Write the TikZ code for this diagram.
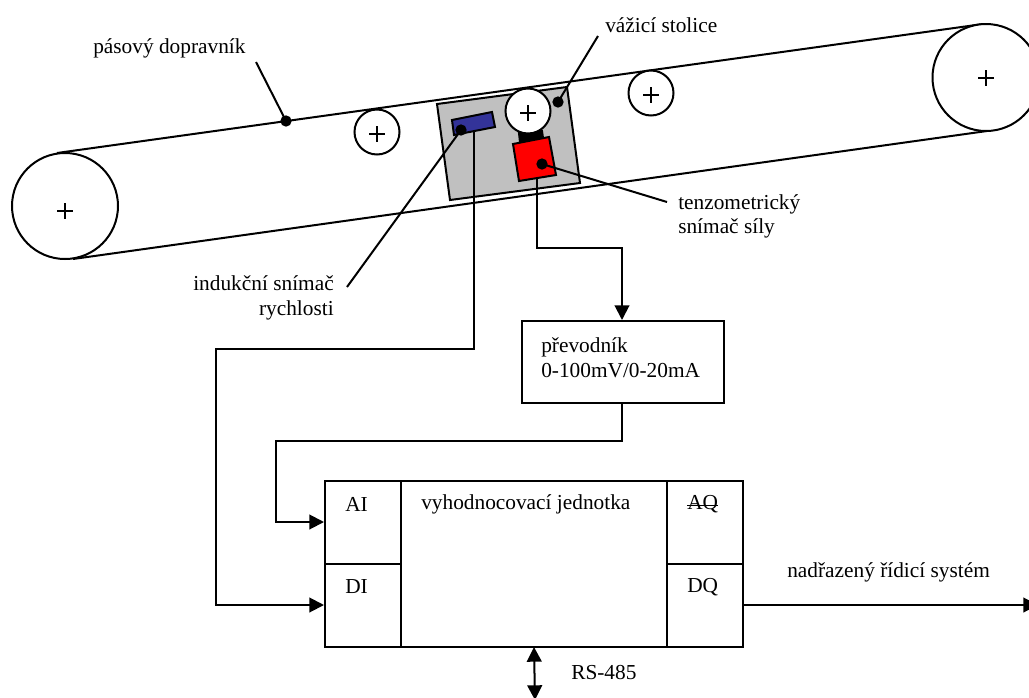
\documentclass[tikz,border=0pt]{standalone}
\usepackage{fontspec}
\setmainfont{Liberation Serif}
\usetikzlibrary{arrows.meta,calc}
\definecolor{plategray}{RGB}{192,192,192}
\definecolor{sensorblue}{RGB}{51,51,153}
\tikzset{
  x=0.75pt,y=-0.75pt,
  line/.style={draw=black,line width=1.5pt},
  roller/.style={circle,line,fill=white,inner sep=0pt,minimum size=#1*0.75pt},
  dot/.style={circle,fill=black,inner sep=0pt,minimum size=8.5pt},
  plus/.style={line width=1.2pt},
  lab/.style={inner sep=0pt,font=\fontsize{16}{18.75}\selectfont,align=left},
  boxn/.style={rectangle,line,inner sep=0pt,anchor=north west},
  conn/.style={line,-{Triangle[length=11pt,width=11pt]}},
  dbl/.style={line,{Triangle[length=11pt,width=11pt]}-{Triangle[length=11pt,width=11pt]}},
  leader/.style={line}
}
\newcommand{\boxat}[5]{\node[boxn,minimum width=#4*0.75pt,minimum height=#5*0.75pt] (#1) at (#2,#3) {};}
\begin{document}
\begin{tikzpicture}
\useasboundingbox (0,0) rectangle (1029,697);
% belt
\coordinate (t1) at (57,153); \coordinate (t2) at (983,24);
\coordinate (b1) at (73,259); \coordinate (b2) at (987,131);
\draw[line] (t1) -- (t2);
\draw[line] (b1) -- (b2);
\node[roller=106] (rl) at (65,206) {};
\node[roller=107] (rr) at (986,77.5) {};
\node[roller=45] (i1) at (377,132) {};
\node[roller=45] (i2) at (651,93) {};
% plate
\draw[line,fill=plategray] (437,104) -- (567,87) -- (580,183) -- (450,200) -- cycle;
\draw[line,fill=black] (519,133) -- (542,131) -- (543,138) -- (520,142) -- cycle;
\node[roller=45] (i3) at (528,111) {};
\draw[line,fill=sensorblue] (452,120) -- (492,112) -- (495,127) -- (454,135) -- cycle;
\draw[line,fill=red] (513,144) -- (549,137) -- (556,175) -- (519,181) -- cycle;
% plus signs
\foreach \n/\dy in {rl/5,rr/0.5,i1/2,i2/2,i3/2}{
  \draw[plus] ($(\n)+(-8,\dy)$) -- ($(\n)+(8,\dy)$);
  \draw[plus] ($(\n)+(0,\dy-8)$) -- ($(\n)+(0,\dy+8)$);
}
% leader dots
\node[dot] (d1) at (286,121) {};
\node[dot] (d2) at (558,102) {};
\node[dot] (d3) at (461,130) {};
\node[dot] (d4) at (542,164) {};
\coordinate (e1) at (256,62);
\coordinate (e2) at (598,36);
\coordinate (e3) at (347,287);
\coordinate (e4) at (667,202);
\draw[leader] (d1.center) -- (e1);
\draw[leader] (d2.center) -- (e2);
\draw[leader] (d3.center) -- (e3);
\draw[leader] (d4.center) -- (e4);
% boxes
\boxat{conv}{521}{320}{202}{82}
\boxat{ai}{324}{480}{76}{83}
\boxat{di}{324}{563}{76}{83}
\boxat{cpu}{400}{480}{266}{166}
\boxat{aq}{666}{480}{76}{83}
\boxat{dq}{666}{563}{76}{83}
% wires
\coordinate (s1) at (474,132);
\coordinate (s2) at (537,179);
\coordinate (w1) at (622,402);
\coordinate (out) at (1038,605);
\coordinate (rs1) at (534,647);
\coordinate (rs2) at (535,700);
\draw[conn] (s1) -- (474,349) -- (216,349) -- (216,605) -- (324,605);
\draw[conn] (s2) -- (537,248) -- (622,248) -- (622,320);
\draw[conn] (w1) -- (622,441) -- (276,441) -- (276,522) -- (324,522);
\draw[conn] (742,605) -- (out);
\draw[dbl] (rs1) -- (rs2);
% labels
\node[lab,anchor=west] (tpas) at (93,48) {pásový dopravník};
\node[lab,anchor=west] (tvaz) at (605,25) {vážicí stolice};
\node[lab,anchor=north west,font=\fontsize{16}{18}\selectfont] (tten) at (678,194) {tenzometrický\\snímač síly};
\node[lab,anchor=north east,align=right] (tind) at (334,275) {indukční snímač\\rychlosti};
\node[lab,anchor=north west] (tpre) at (541,337) {převodník\\0-100mV/0-20mA};
\node[lab,anchor=west] (tai) at (345,504) {AI};
\node[lab,anchor=west] (tdi) at (345,587) {DI};
\node[lab,anchor=west] (tvy) at (421,504) {vyhodnocovací jednotka};
\node[lab,anchor=west] (taq) at (687,504) {AQ};
\draw[line width=0.9pt] ($(taq.west)+(0,1.5)$) -- ($(taq.east)+(0,1.5)$);
\node[lab,anchor=west] (tdq) at (687,587) {DQ};
\node[lab,anchor=west] (tnad) at (787,572) {nadřazený řídicí systém};
\node[lab,anchor=west] (trs) at (571,673) {RS-485};
\end{tikzpicture}
\end{document}
